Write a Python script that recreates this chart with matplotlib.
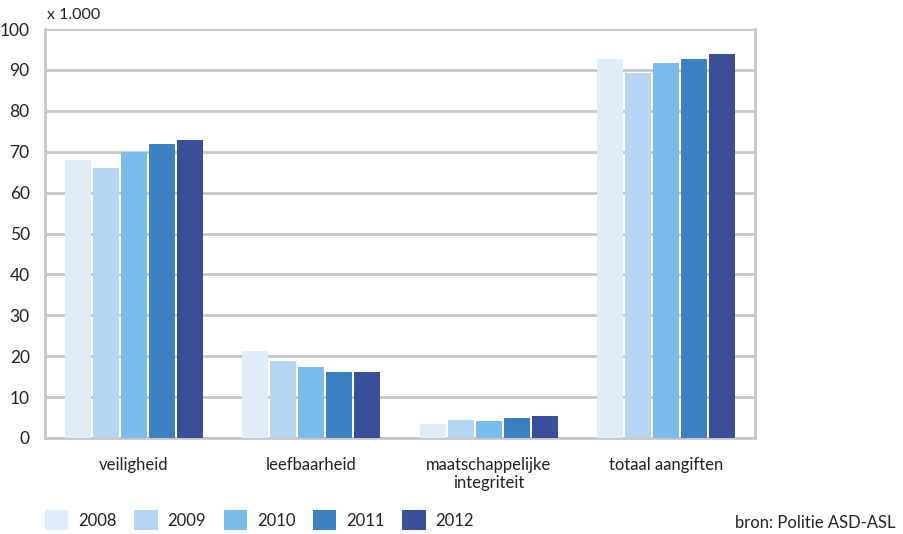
import matplotlib
matplotlib.use("Agg")
import matplotlib.pyplot as plt
import numpy as np
from matplotlib.patches import Patch

plt.rcParams['font.family'] = ['Lato', 'DejaVu Sans']

categories = ["veiligheid", "leefbaarheid", "maatschappelijke\nintegriteit", "totaal aangiften"]
years = ["2008", "2009", "2010", "2011", "2012"]
values = {
    "2008": [68.0, 21.2, 3.5, 92.6],
    "2009": [66.0, 18.8, 4.5, 89.2],
    "2010": [70.0, 17.4, 4.2, 91.6],
    "2011": [71.8, 16.2, 5.0, 92.6],
    "2012": [72.8, 16.2, 5.3, 93.8],
}
colors = ["#E1EDF9", "#B5D6F3", "#7ABCEB", "#3A80C3", "#3A4E99"]
yticks = [0, 10, 20, 30, 40, 50, 60, 70, 80, 90, 100]

fig = plt.figure(figsize=(9.04, 5.34), dpi=100)
ax = fig.add_axes([45/904, 1-438/534, 710/904, 409/534])

x = np.arange(len(categories))
pitch = 0.158
width = 0.146
for i, y in enumerate(years):
    ax.bar(x + (i - 2) * pitch, values[y], width=width, color=colors[i], zorder=3)

ax.set_xlim(-0.5, len(categories) - 0.5)
ax.set_ylim(0, 100)
ax.set_yticks(yticks)
ax.yaxis.grid(True, color="#C8C8C8", linewidth=2, zorder=0)
ax.set_axisbelow(True)
for s in ["left", "right", "bottom"]:
    ax.spines[s].set_color("#C8C8C8")
    ax.spines[s].set_linewidth(2)
ax.spines["top"].set_visible(False)
ax.tick_params(axis="both", length=0, labelsize=12.5, colors="#222222")
ax.tick_params(axis="y", pad=11)
ax.tick_params(axis="x", pad=14)
ax.set_xticks(x)
ax.set_xticklabels(categories, fontsize=12, linespacing=1.15, va="top")

fig.text(47/904, 1-15/534, "x 1.000", fontsize=11.5, color="#222222", va="center", ha="left")

handles = [Patch(facecolor=c, edgecolor="none") for c in colors]
leg = fig.legend(handles, years, loc="center left", bbox_to_anchor=(30/904, 1-520/534),
                 ncol=5, frameon=False, fontsize=12, handlelength=1.4, handleheight=1.5,
                 columnspacing=1.05, handletextpad=0.6, labelcolor="#222222")

fig.text(896/904, 1-523/534, "bron: Politie ASD-ASL", fontsize=12, color="#222222",
         ha="right", va="center")

fig.savefig("out.png", dpi=100)
